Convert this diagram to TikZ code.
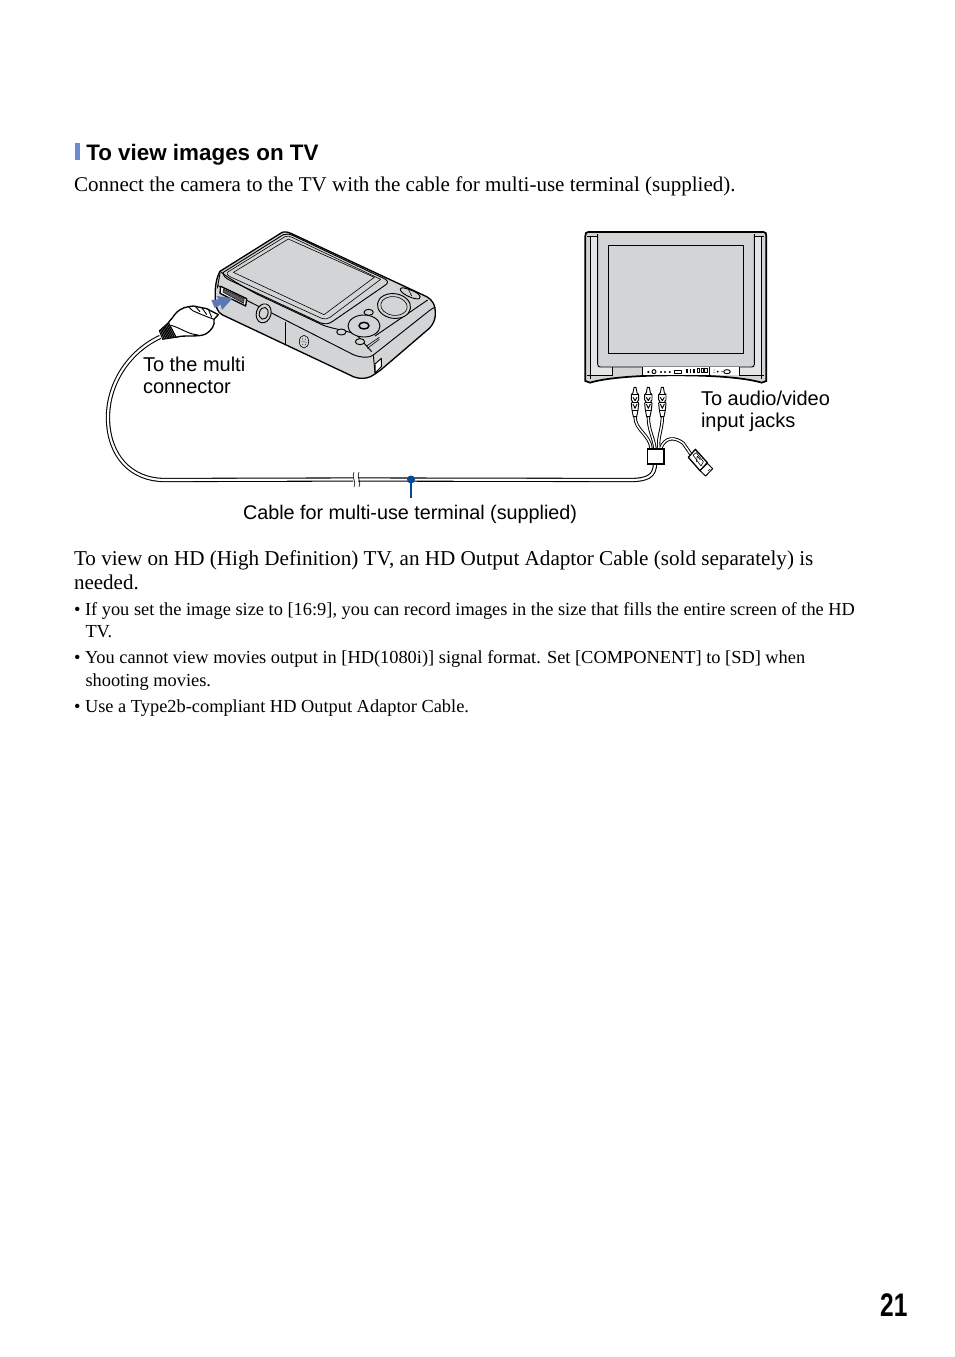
\documentclass[tikz,border=0pt]{standalone}
\usepackage{fontspec}
\setmainfont{Liberation Serif}
\newfontfamily\hv{Liberation Sans}
\usetikzlibrary{arrows.meta,calc}
\definecolor{lcd}{HTML}{D3D4D5}
\definecolor{strip}{HTML}{E4E5E6}
\definecolor{leader}{HTML}{004A94}
\definecolor{headbar}{HTML}{6C8CD0}
\definecolor{arrowblue}{HTML}{5B78B4}
\tikzset{
  x=0.75pt,y=-0.75pt,
  body/.style={anchor=base west,inner sep=0pt,outer sep=0pt,font=\fontsize{15.77}{18}\selectfont},
  small/.style={anchor=base west,inner sep=0pt,outer sep=0pt,font=\fontsize{13.78}{16}\selectfont},
  lab/.style={anchor=base west,inner sep=0pt,outer sep=0pt,font=\hv\fontsize{15}{18}\selectfont},
  ol/.style={draw=black,line width=0.7pt,line join=round},
  olthin/.style={draw=black,line width=0.45pt,line join=round},
  cableo/.style={draw=black,line width=3.2pt,line cap=butt},
  cablei/.style={draw=white,line width=1.6pt,line cap=butt},
  brancho/.style={draw=black,line width=2.5pt,line cap=butt},
  branchi/.style={draw=white,line width=1.1pt,line cap=butt},
}
\begin{document}
\begin{tikzpicture}
\useasboundingbox[fill=white] (0,0) rectangle (954,1357);

% heading
\fill[headbar] (75,143) rectangle (80,160);
\node[anchor=base west,inner sep=0pt,font=\hv\bfseries\fontsize{16.8}{20}\selectfont] (head) at (86,160) {To view images on TV};
\node[body] (intro) at (74,191) {Connect the camera to the TV with the cable for multi-use terminal (supplied).};

% cable coordinates
\coordinate (plugend) at (160,337);
\coordinate (brk1) at (353,479.5);
\coordinate (brk2) at (358,479.5);
\coordinate (pin) at (411,479.5);
\coordinate (hub) at (655,463);

% main cable
\foreach \st in {cableo,cablei}{
  \draw[\st] (plugend) .. controls (128,352) and (107,385) .. (108,420)
     .. controls (109,455) and (130,480) .. (165,480) -- (brk1);
  \draw[\st] (brk2) -- (630,480) .. controls (648,480) and (655,476) .. (hub);
}
\draw[olthin] (354,472) .. controls (351,476) and (357,483) .. (354,487);
\draw[olthin] (359,472) .. controls (356,476) and (362,483) .. (359,487);

% camera
\begin{scope}[shift={(140,220)},scale=1/3]
  \path[ol,fill=lcd,line width=1pt] (425,38) .. controls (432,34) and (442,35) .. (455,41) -- (860,230)
     .. controls (878,240) and (887,255) .. (886,285) .. controls (885,300) and (880,312) .. (868,325)
     -- (722,450) -- (705,462) .. controls (690,474) and (665,480) .. (640,470)
     -- (248,285) .. controls (232,277) and (228,262) .. (226,240)
     .. controls (224,205) and (228,175) .. (240,154) -- cycle;
  % bezel
  \draw[ol] (240,154) .. controls (262,172) and (300,195) .. (350,222) -- (550,316) .. controls (590,330) and (620,330) .. (650,345) -- (695,395);
  \draw[ol] (250,157) -- (430,44) .. controls (440,40) and (448,42) .. (460,47) -- (735,177) .. controls (745,183) and (745,190) .. (735,196)
     -- (578,304) .. controls (566,312) and (556,314) .. (540,308) -- (268,180) .. controls (256,174) and (248,166) .. (250,157);
  \draw[olthin] (262,157) -- (435,50) .. controls (442,47) and (448,48) .. (456,52) -- (722,178) -- (570,292) .. controls (562,298) and (554,298) .. (545,295) -- (270,170) .. controls (262,166) and (260,161) .. (262,157);
  % screen
  \path[olthin,fill=lcd] (280,157) -- (445,57) -- (703,172) -- (552,284) -- cycle;
  % side edge
  \draw[ol] (232,205) -- (240,160);
  \draw[ol] (232,196) -- (640,404) .. controls (665,414) and (690,414) .. (700,405);
  \draw[ol] (700,405) -- (868,272) .. controls (880,263) and (884,262) .. (886,262);
  \draw[ol] (705,348) -- (863,240);
  \draw[ol] (700,405) -- (705,460);
  \path[ol,fill=white] (705,432) -- (724,415) -- (724,440) -- (706,458) -- cycle;
  % door
  \draw[ol] (437,305) -- (437,372);
  \path[olthin,fill=lcd] (492,365) ellipse [x radius=14,y radius=19];
  \foreach \dx/\dy in {-4/-8,4/-6,-6/0,0/0,6/2,-4/8,4/9}{\fill (492+\dx,365+\dy) circle (1.3);}
  % tripod socket
  \path[ol,fill=lcd] (371,280) ellipse [x radius=22,y radius=29,rotate=-15];
  \path[ol,fill=lcd] (371,280) ellipse [x radius=13,y radius=18,rotate=-15];
  % multi connector socket
  \path[ol,fill=white,line width=1pt] (242,199) -- (320,236) -- (317,258) -- (240,220) -- cycle;
  \path[draw=black,fill=black!65,line width=.3pt] (250,207) -- (313,236) -- (311,250) -- (249,217) -- cycle;
  % controls
  \path[ol,fill=lcd] (762,258) ellipse [x radius=50,y radius=37,rotate=-8];
  \path[olthin,fill=lcd] (762,258) ellipse [x radius=40,y radius=28,rotate=-8];
  \path[ol,fill=lcd] (800,206) .. controls (785,200) and (778,205) .. (782,212) .. controls (790,225) and (825,240) .. (838,236) .. controls (848,228) and (830,215) .. (800,206);
  \draw[olthin] (805,207) -- (815,228);
  \path[ol,fill=lcd] (672,318) ellipse [x radius=48,y radius=33];
  \path[ol,fill=lcd,line width=1.1pt] (672,317) ellipse [x radius=15,y radius=10];
  \path[ol,fill=lcd] (604,336) ellipse [x radius=14,y radius=9];
  \path[ol,fill=lcd] (686,277) ellipse [x radius=14,y radius=9];
  \path[ol,fill=lcd] (660,365) ellipse [x radius=14,y radius=9];
  \draw[olthin] (680,378) -- (718,352) (682,385) -- (718,358);
  % arrow
  \fill[arrowblue] (214,240) -- (236,238) -- (230,228) -- (278,234) -- (246,270) -- (242,254) -- (224,264) -- cycle;
  % plug
  \path[ol,fill=white,line width=1pt] (145,260) .. controls (130,262) and (112,272) .. (104,284) .. controls (100,292) and (92,298) .. (85,308)
     -- (108,352) .. controls (130,344) and (175,352) .. (195,343)
     .. controls (215,332) and (226,315) .. (222,298) -- (235,284) -- (200,266) -- (160,258) -- cycle;
  \draw[ol] (158,272) .. controls (175,280) and (205,292) .. (222,298);
  \draw[ol] (145,260) -- (158,272) (165,258) -- (180,275) (185,262) -- (200,284);
  \draw[ol] (206,270) -- (215,292);
  \draw[ol] (92,316) .. controls (120,322) and (140,342) .. (175,345);
  \path[draw=black,fill=black!30,line width=.7pt,line join=round] (85,308) -- (58,332) -- (68,358) -- (108,352) -- cycle;
  \foreach \t in {.12,.25,.38,.5,.62,.75,.88}{
    \draw[black,line width=.9pt] ($(85,308)!\t!(58,332)$) -- ($(108,352)!\t!(68,358)$);
  }
\end{scope}

% TV
\begin{scope}[shift={(575,220)},scale=1/3]
  \path[draw=black,line width=1.3pt,fill=lcd] (40,36) -- (565,36) .. controls (572,36) and (574,40) .. (574,48) -- (574,483) -- (560,488)
     .. controls (520,476) and (440,466) .. (303,466) .. controls (165,466) and (85,476) .. (45,488) -- (31,483) -- (31,48) .. controls (31,40) and (33,36) .. (40,36) -- cycle;
  \fill[strip] (47,50) rectangle (68,440);
  \fill[strip] (538,50) rectangle (558,440);
  \fill[strip] (47,440) rectangle (113,466);
  \fill[strip] (493,440) rectangle (558,466);
  \draw[ol] (46,50) -- (46,478);
  \draw[ol] (559,50) -- (559,478);
  \draw[ol] (37,50) -- (68,50) (538,50) -- (568,50);
  \draw[ol] (68,42) -- (68,432) .. controls (68,438) and (70,441) .. (76,441) -- (530,441) .. controls (536,441) and (538,438) .. (538,432) -- (538,42);
  \draw[ol] (37,467) -- (113,467) -- (113,441);
  \draw[ol] (568,467) -- (493,467) -- (493,441);
  \fill[white] (204,442) rectangle (492,465);
  \draw[ol] (203,441) -- (203,466) (403,441) -- (403,466);
  \path[draw=black,line width=1.1pt,fill=lcd] (100,76) -- (505,76) -- (505,400) -- (100,400) -- cycle;
  \foreach \xx in {220,258,270,284}{\fill (\xx,456) circle (3.5);}
  \draw[ol] (237,455) circle (6);
  \draw[ol] (299,451) rectangle (320,460);
  \foreach \xx in {333,344,355}{\fill (\xx,446) rectangle ++(5,12);}
  \foreach \xx in {367,378,389}{\draw[ol] (\xx,446) rectangle ++(7,12);}
  \fill (417,450) circle (1.5) (417,458) circle (1.5) (428,455) circle (3) (441,455) circle (2);
  \draw[ol] (456,455) ellipse [x radius=10,y radius=6];
\end{scope}

% AV plugs and USB
\begin{scope}[shift={(620,380)},scale=1/3]
  \foreach \st in {brancho,branchi}{
    \draw[\st] (45,110) .. controls (45,150) and (90,165) .. (93,205);
    \draw[\st] (85,110) .. controls (85,150) and (100,170) .. (105,205);
    \draw[\st] (127,110) .. controls (127,150) and (112,170) .. (117,205);
    \draw[\st] (122,205) .. controls (135,170) and (165,170) .. (190,190) -- (212,222);
  }
  \foreach \xx in {45,85,127}{
    \path[ol,fill=white] (\xx-3,22) -- (\xx+3,22) -- (\xx+6,38) -- (\xx+11,44) -- (\xx+11,60) -- (\xx+7,64) -- (\xx+11,70) -- (\xx+9,90) -- (\xx+5,110) -- (\xx-5,110) -- (\xx-9,90) -- (\xx-11,70) -- (\xx-7,64) -- (\xx-11,60) -- (\xx-11,44) -- (\xx-6,38) -- cycle;
    \draw[ol] (\xx-11,44) -- (\xx+11,44) (\xx-9,66) -- (\xx+9,66) (\xx-8,90) -- (\xx+8,90);
    \draw[ol] (\xx-6,52) -- (\xx,62) -- (\xx+6,52) (\xx-6,72) -- (\xx,85) -- (\xx+6,72);
  }
  \path[draw=black,line width=1.2pt,fill=white] (83,207) rectangle (132,252);
  % USB plug
  \path[ol,fill=white,line width=1pt] (226,208) -- (205,232) -- (240,272) -- (262,248) -- cycle;
  \path[ol,fill=white] (240,272) -- (262,250) -- (278,266) -- (257,288) -- cycle;
  \draw[olthin] (219,225) -- (243,258) -- (250,245) -- (229,218) -- cycle;
  \draw[olthin] (232,228) -- (229,246) (232,228) -- (241,240);
  \draw[olthin] (264,273) -- (270,267);
\end{scope}

% leader
\draw[leader,line width=2pt] (pin) -- (411,498);
\fill[leader] (pin) circle (4);

% labels
\node[lab] (l1) at (143,371) {To the multi};
\node[lab] (l2) at (143,393) {connector};
\node[lab] (l3) at (701,405) {To audio/video};
\node[lab] (l4) at (701,427) {input jacks};
\node[lab,font=\hv\fontsize{14.83}{18}\selectfont] (l5) at (243,519) {Cable for multi-use terminal (supplied)};

% body text
\node[body,font=\fontsize{15.85}{18}\selectfont] (p1) at (74,565) {To view on HD (High Definition) TV, an HD Output Adaptor Cable (sold separately) is};
\node[body] (p2) at (74,589) {needed.};
\node[small] (b1) at (74,615) {• If you set the image size to [16:9], you can record images in the size that fills the entire screen of the HD};
\node[small] (b1b) at (85.5,637) {TV.};
\node[small] (b2) at (74,663) {• You cannot view movies output in [HD(1080i)] signal format. Set [COMPONENT] to [SD] when};
\node[small] (b2b) at (85.5,686) {shooting movies.};
\node[small] (b3) at (74,712) {• Use a Type2b-compliant HD Output Adaptor Cable.};

% page number
\node[anchor=base west,inner sep=0pt,xscale=.75,font=\hv\bfseries\fontsize{24.5}{28}\selectfont] (pg) at (880,1316) {21};
\end{tikzpicture}
\end{document}
